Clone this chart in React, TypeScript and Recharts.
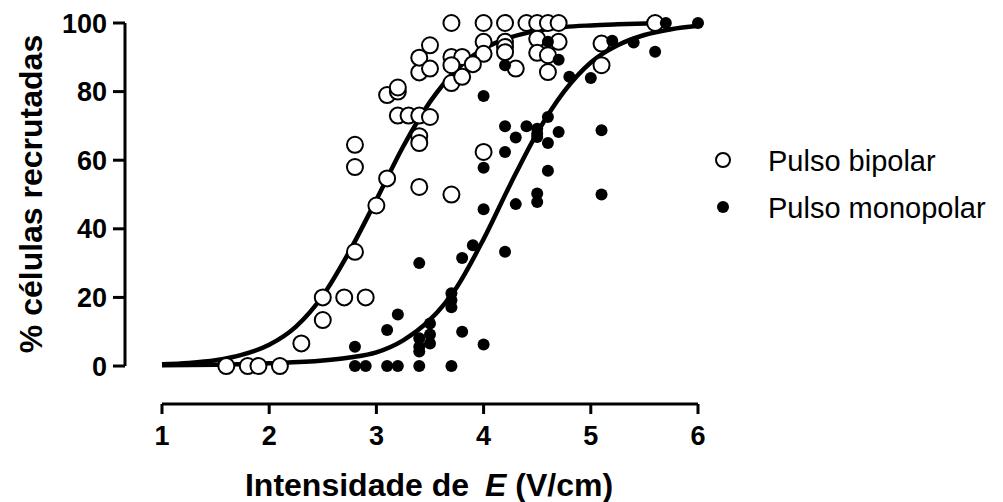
import React from "react";
import {
  ComposedChart,
  Scatter,
  Line,
  XAxis,
  YAxis,
  ReferenceLine,
} from "recharts";

// open circles (bipolar pulse): [E, % recruited]
const bipolarPoints: [number, number][] = [
  [1.6, 0], [1.8, 0], [1.9, 0], [2.1, 0],
  [2.3, 6.6], [2.5, 13.4], [2.5, 20], [2.7, 20], [2.9, 20], [2.8, 33.3],
  [3.0, 46.8], [3.1, 54.7], [2.8, 58], [2.8, 64.5],
  [3.1, 79], [3.2, 80], [3.2, 81.2], [3.2, 73], [3.3, 73], [3.4, 73], [3.5, 72.6],
  [3.4, 67], [3.4, 65], [3.4, 52.2],
  [3.4, 85.6], [3.4, 89.9], [3.5, 86.7], [3.5, 93.5],
  [3.7, 100], [4.0, 100], [4.2, 100], [4.4, 100], [4.5, 100], [4.6, 100], [4.7, 100], [5.6, 100],
  [4.0, 94.5], [4.2, 94.5], [4.2, 93], [4.2, 91.5], [4.5, 95.4], [4.7, 94.5], [5.1, 94],
  [3.7, 90.1], [3.8, 90.1], [4.0, 91], [3.7, 87.7], [3.9, 88], [4.3, 86.7],
  [4.5, 91.3], [4.6, 90.6], [4.6, 85.7], [5.1, 87.7], [3.7, 82.5], [3.8, 84.3],
  [4.0, 62.4], [3.7, 50],
];

// filled dots (monopolar pulse)
const monopolarPoints: [number, number][] = [
  [2.8, 0], [2.9, 0], [3.1, 0], [3.2, 0], [3.4, 0], [3.7, 0],
  [2.8, 5.6], [3.1, 10.5], [3.2, 15], [3.4, 30], [3.4, 8.1], [3.4, 5.6], [3.4, 4.2],
  [3.5, 12.4], [3.5, 9.2], [3.5, 6.6], [3.7, 21.2], [3.7, 19.2], [3.7, 17.1],
  [3.8, 31.5], [3.8, 10], [3.9, 35.2], [4.0, 6.3],
  [4.0, 45.7], [4.2, 33.3], [4.3, 47.2], [4.5, 47.8], [4.5, 50.3], [5.1, 50],
  [4.0, 57.8], [4.6, 56.9], [4.2, 62.4], [4.6, 65], [4.3, 66.6], [4.5, 66.8],
  [4.5, 67.7], [4.5, 69.2], [4.7, 68.2], [4.2, 69.9], [4.4, 69.9], [4.6, 72.6], [5.1, 68.7],
  [4.0, 78.7], [4.8, 84.3], [5.0, 84], [4.2, 87.7], [4.7, 89.3], [4.6, 94.5],
  [5.2, 94.8], [5.4, 94.3], [5.6, 91.6], [5.7, 100], [6.0, 100],
];

// fitted curves
const bipolarFit: [number, number][] = [
  [1.0, 0.5], [1.25, 0.9], [1.5, 1.7], [1.75, 3.3], [2.0, 6.2], [2.25, 11.5],
  [2.5, 20.5], [2.75, 33.5], [3.0, 48.5], [3.25, 64], [3.5, 77], [3.75, 86.5],
  [4.0, 92.5], [4.25, 95.8], [4.5, 97.7], [4.75, 98.8], [5.0, 99.3], [5.25, 99.6], [5.6, 99.9],
];

const monopolarFit: [number, number][] = [
  [1.0, 0.2], [1.5, 0.4], [2.0, 0.8], [2.5, 1.6], [2.75, 2.5], [3.0, 4],
  [3.25, 7.5], [3.5, 13.5], [3.75, 23], [4.0, 37], [4.25, 53], [4.5, 68],
  [4.75, 80], [5.0, 88.5], [5.25, 93.5], [5.5, 96.5], [5.75, 98.2], [6.0, 99.2],
];

const xTicks = [1, 2, 3, 4, 5, 6];
const yTicks = [0, 20, 40, 60, 80, 100];
const seriesNames = ["Pulso bipolar", "Pulso monopolar"];

const toRows = (pts: [number, number][]) => pts.map(([x, y]) => ({ x, y }));

const X_MIN = 0.655;
const Y_MIN = -11.07;
const FONT = "'Liberation Sans', Arial, sans-serif";

const OpenCircle = (props: any) => (
  <circle cx={props.cx} cy={props.cy} r={8} fill="#fff" stroke="#000" strokeWidth={2} />
);
const FilledDot = (props: any) => (
  <circle cx={props.cx} cy={props.cy} r={6} fill="#000" />
);

const tickStyle = { fontSize: 27, fontWeight: 700, fill: "#000", fontFamily: FONT };

export default function App() {
  return (
    <div style={{ position: "absolute", left: 0, top: 0, width: 1003, height: 502, background: "#fff" }}>
      <ComposedChart
        width={1003}
        height={502}
        margin={{ top: 23, right: 305, bottom: 0, left: 0 }}
      >
        <XAxis
          type="number"
          dataKey="x"
          domain={[X_MIN, 6]}
          ticks={xTicks}
          axisLine={false}
          tickLine={{ stroke: "#000", strokeWidth: 3 }}
          tickSize={10}
          tickMargin={12}
          height={98}
          tick={tickStyle}
        />
        <YAxis
          type="number"
          dataKey="y"
          domain={[Y_MIN, 100]}
          ticks={yTicks}
          axisLine={false}
          tickLine={{ stroke: "#000", strokeWidth: 3 }}
          tickSize={12}
          tickMargin={6}
          width={125}
          tick={tickStyle}
        />
        <ReferenceLine
          segment={[{ x: 1, y: Y_MIN }, { x: 6, y: Y_MIN }]}
          stroke="#000"
          strokeWidth={3}
          ifOverflow="visible"
        />
        <ReferenceLine
          segment={[{ x: X_MIN, y: 0 }, { x: X_MIN, y: 100 }]}
          stroke="#000"
          strokeWidth={3}
          ifOverflow="visible"
        />
        <Scatter data={toRows(bipolarPoints)} shape={OpenCircle} isAnimationActive={false} />
        <Scatter data={toRows(monopolarPoints)} shape={FilledDot} isAnimationActive={false} />
        <Line
          data={toRows(bipolarFit)}
          dataKey="y"
          type="monotone"
          stroke="#000"
          strokeWidth={4.5}
          dot={false}
          activeDot={false}
          isAnimationActive={false}
        />
        <Line
          data={toRows(monopolarFit)}
          dataKey="y"
          type="monotone"
          stroke="#000"
          strokeWidth={4.5}
          dot={false}
          activeDot={false}
          isAnimationActive={false}
        />
      </ComposedChart>

      {/* axis titles and legend */}
      <svg
        width={1003}
        height={502}
        style={{ position: "absolute", left: 0, top: 0, pointerEvents: "none" }}
      >
        <text
          x={429}
          y={496}
          textAnchor="middle"
          fontFamily={FONT}
          fontWeight={700}
          fontSize={32}
          fill="#000"
        >
          Intensidade de
          <tspan dx={16} fontStyle="italic">E</tspan>
          <tspan> (V/cm)</tspan>
        </text>
        <text
          x={42}
          y={194}
          transform="rotate(-90 42 194)"
          textAnchor="middle"
          fontFamily={FONT}
          fontWeight={700}
          fontSize={32}
          fill="#000"
        >
          % células recrutadas
        </text>

        <circle cx={723} cy={160} r={7} fill="#fff" stroke="#000" strokeWidth={2} />
        <text x={768} y={171} fontFamily={FONT} fontSize={29} fill="#000">
          {seriesNames[0]}
        </text>
        <circle cx={723} cy={207} r={6} fill="#000" />
        <text x={768} y={218} fontFamily={FONT} fontSize={29} fill="#000">
          {seriesNames[1]}
        </text>
      </svg>
    </div>
  );
}
